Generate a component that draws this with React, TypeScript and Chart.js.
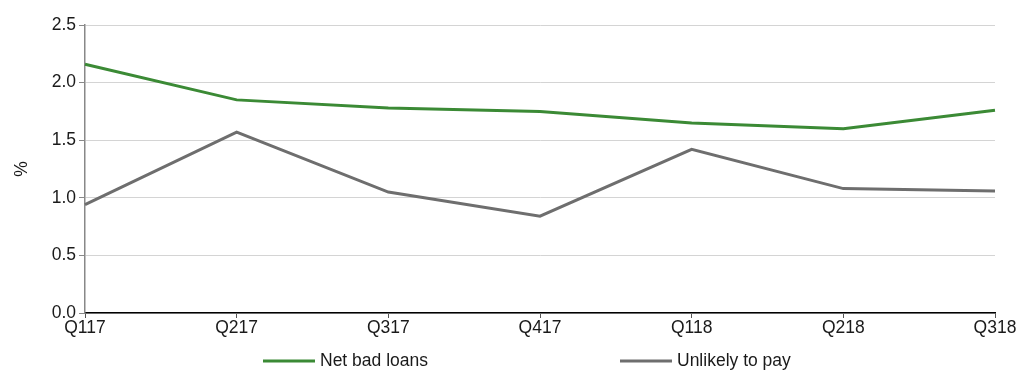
import React, { useEffect, useRef } from "react";
import { Chart, registerables } from "chart.js";

Chart.register(...registerables);

const categories = ["Q117", "Q217", "Q317", "Q417", "Q118", "Q218", "Q318"];
const netBadLoans = [2.16, 1.85, 1.78, 1.75, 1.65, 1.6, 1.76];
const unlikelyToPay = [0.94, 1.57, 1.05, 0.84, 1.42, 1.08, 1.06];
const yTicks = [0, 0.5, 1.0, 1.5, 2.0, 2.5];

const GREEN = "#3b8a35";
const GREY = "#6e6e6e";
const FONT = "'Liberation Sans', Arial, sans-serif";
const FS = 17.5;

const legendPlugin = {
  id: "customLegend",
  afterDraw(chart: any) {
    const ctx = chart.ctx;
    const items = [
      { x: 263, ds: 0 },
      { x: 620, ds: 1 },
    ];
    const y = 361;
    ctx.save();
    items.forEach((it) => {
      const ds = chart.data.datasets[it.ds];
      ctx.strokeStyle = ds.borderColor;
      ctx.lineWidth = 3;
      ctx.beginPath();
      ctx.moveTo(it.x, y);
      ctx.lineTo(it.x + 52, y);
      ctx.stroke();
      ctx.fillStyle = "#1a1a1a";
      ctx.font = `${FS}px ${FONT}`;
      ctx.textBaseline = "middle";
      ctx.textAlign = "left";
      ctx.fillText(ds.label, it.x + 57, y);
    });
    ctx.restore();
  },
};

export default function App() {
  const ref = useRef<HTMLCanvasElement | null>(null);
  useEffect(() => {
    document.body.style.margin = "0";
    if (!ref.current) return;
    const chart = new Chart(ref.current, {
      type: "line",
      data: {
        labels: categories,
        datasets: [
          {
            label: "Net bad loans",
            data: netBadLoans,
            borderColor: GREEN,
            backgroundColor: GREEN,
            borderWidth: 3,
            pointRadius: 0,
            tension: 0,
          },
          {
            label: "Unlikely to pay",
            data: unlikelyToPay,
            borderColor: GREY,
            backgroundColor: GREY,
            borderWidth: 3,
            pointRadius: 0,
            tension: 0,
          },
        ],
      },
      options: {
        animation: false,
        responsive: false,
        layout: { padding: { left: 0, right: 23, top: 25, bottom: 0 } },
        plugins: { legend: { display: false }, tooltip: { enabled: false } },
        scales: {
          x: {
            offset: false,
            grid: {
              drawOnChartArea: false,
              tickLength: 5,
              tickColor: "#555",
            },
            border: { color: "#000", width: 1.5 },
            ticks: {
              color: "#1a1a1a",
              font: { family: FONT, size: FS },
              padding: 0,
              maxRotation: 0,
              autoSkip: false,
            },
            afterFit(scale: any) {
              scale.height = 59;
            },
          },
          y: {
            min: 0,
            max: 2.5,
            afterBuildTicks(scale: any) {
              scale.ticks = yTicks.map((v) => ({ value: v }));
            },
            grid: {
              color: "#d4d4d4",
              tickLength: 6,
              tickColor: "#888",
            },
            border: { color: "#888", width: 1.5 },
            ticks: {
              color: "#1a1a1a",
              font: { family: FONT, size: FS },
              padding: 3,
              callback: (v: any) => Number(v).toFixed(1),
            },
            title: {
              display: true,
              text: "%",
              color: "#1a1a1a",
              font: { family: FONT, size: FS },
              padding: { top: 12, bottom: 6 },
            },
            afterFit(scale: any) {
              scale.width = 85;
            },
          },
        },
      },
      plugins: [legendPlugin],
    });
    return () => chart.destroy();
  }, []);
  return <canvas ref={ref} width={1018} height={372} style={{ display: "block" }} />;
}
